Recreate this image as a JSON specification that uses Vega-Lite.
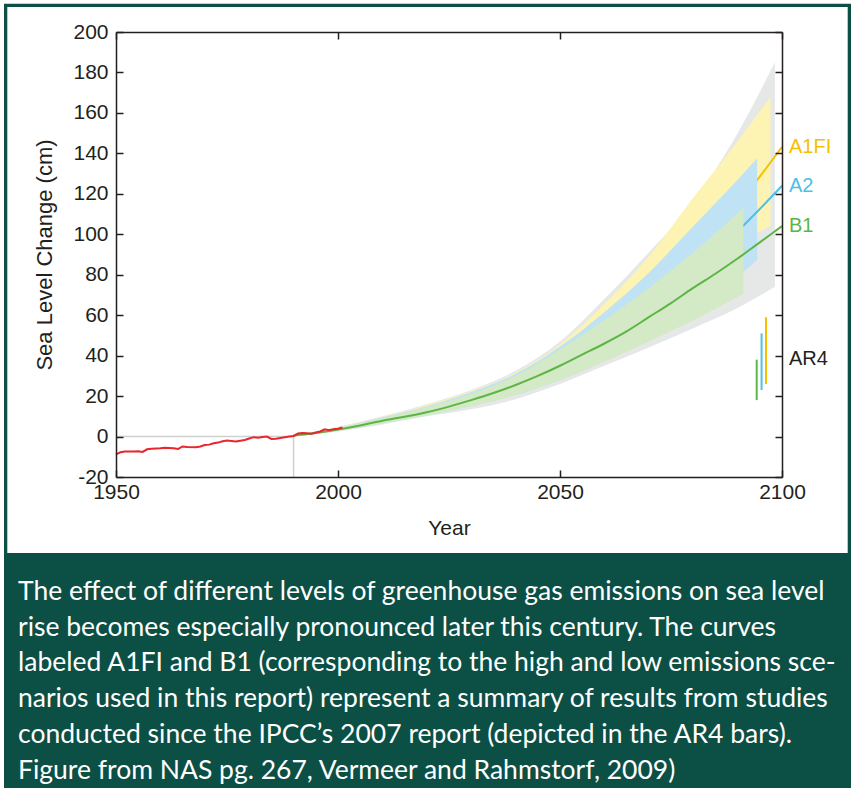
{
  "$schema": "https://vega.github.io/schema/vega-lite/v6.json",
  "width": 666,
  "height": 445,
  "autosize": {"type": "none"},
  "padding": {"left": 116, "top": 32, "right": 71, "bottom": 311},
  "background": "white",
  "config": {
    "view": {"stroke": null},
    "axis": {
      "zindex": 1, "grid": false, "labelFlush": false,
      "domainColor": "#231f20", "tickColor": "#231f20", "labelColor": "#231f20", "titleColor": "#231f20",
      "labelFont": "Liberation Sans", "titleFont": "Liberation Sans",
      "labelFontSize": 21, "titleFontSize": 21, "titleFontWeight": "normal",
      "domainWidth": 1.5, "tickWidth": 1.5, "tickSize": -7
    }
  },
  "datasets": {
    "observed": [
      {"year": 1950, "value": -8.8}, {"year": 1951, "value": -7.8}, {"year": 1952, "value": -7.4},
      {"year": 1954, "value": -7.4}, {"year": 1955, "value": -7.3}, {"year": 1956, "value": -7.6},
      {"year": 1957, "value": -6.3}, {"year": 1958, "value": -6.0}, {"year": 1960, "value": -5.8},
      {"year": 1961, "value": -5.6}, {"year": 1963, "value": -5.8}, {"year": 1964, "value": -6.1},
      {"year": 1965, "value": -4.9}, {"year": 1966, "value": -5.2}, {"year": 1968, "value": -5.3},
      {"year": 1969, "value": -4.9}, {"year": 1970, "value": -4.2}, {"year": 1971, "value": -4.0},
      {"year": 1972, "value": -3.3}, {"year": 1973, "value": -3.0}, {"year": 1974, "value": -2.3},
      {"year": 1975, "value": -2.0}, {"year": 1976, "value": -2.2}, {"year": 1977, "value": -2.5},
      {"year": 1978, "value": -2.1}, {"year": 1979, "value": -1.7}, {"year": 1980, "value": -1.0},
      {"year": 1981, "value": -0.3}, {"year": 1982, "value": -0.6}, {"year": 1983, "value": -0.2},
      {"year": 1984, "value": 0.0}, {"year": 1985, "value": -1.2}, {"year": 1986, "value": -1.1},
      {"year": 1987, "value": -0.7}, {"year": 1988, "value": -0.3}, {"year": 1989, "value": 0.0},
      {"year": 1990, "value": 0.3}, {"year": 1991, "value": 1.5}, {"year": 1992, "value": 1.8},
      {"year": 1993, "value": 1.6}, {"year": 1994, "value": 1.4}, {"year": 1995, "value": 2.0},
      {"year": 1996, "value": 2.5}, {"year": 1997, "value": 3.6}, {"year": 1998, "value": 3.1},
      {"year": 1999, "value": 3.6}, {"year": 2000, "value": 3.9}, {"year": 2001, "value": 4.5}
    ],
    "bands": [
      {"s": "gray", "year": 1990, "lo": 0, "hi": 0.5}, {"s": "gray", "year": 2000, "lo": 2.5, "hi": 4.8},
      {"s": "gray", "year": 2010, "lo": 6, "hi": 10}, {"s": "gray", "year": 2020, "lo": 10, "hi": 16},
      {"s": "gray", "year": 2030, "lo": 13.5, "hi": 23}, {"s": "gray", "year": 2040, "lo": 18.5, "hi": 32.5},
      {"s": "gray", "year": 2050, "lo": 26, "hi": 47}, {"s": "gray", "year": 2060, "lo": 35, "hi": 68},
      {"s": "gray", "year": 2070, "lo": 44, "hi": 91}, {"s": "gray", "year": 2080, "lo": 53.5, "hi": 116},
      {"s": "gray", "year": 2090, "lo": 63.5, "hi": 150}, {"s": "gray", "year": 2098.4, "lo": 74, "hi": 185},

      {"s": "A1FI", "year": 1990, "lo": 0, "hi": 0.5}, {"s": "A1FI", "year": 2000, "lo": 3, "hi": 4.5},
      {"s": "A1FI", "year": 2010, "lo": 6.8, "hi": 9.8}, {"s": "A1FI", "year": 2020, "lo": 11, "hi": 15.5},
      {"s": "A1FI", "year": 2030, "lo": 16, "hi": 22.5}, {"s": "A1FI", "year": 2040, "lo": 22, "hi": 31.5},
      {"s": "A1FI", "year": 2050, "lo": 30, "hi": 45.5}, {"s": "A1FI", "year": 2060, "lo": 40, "hi": 65.5},
      {"s": "A1FI", "year": 2070, "lo": 53, "hi": 89}, {"s": "A1FI", "year": 2080, "lo": 71, "hi": 118},
      {"s": "A1FI", "year": 2090, "lo": 94, "hi": 146}, {"s": "A1FI", "year": 2097.4, "lo": 104.2, "hi": 168},

      {"s": "A2", "year": 1990, "lo": 0, "hi": 0.5}, {"s": "A2", "year": 2000, "lo": 3, "hi": 4.2},
      {"s": "A2", "year": 2010, "lo": 6.5, "hi": 9.5}, {"s": "A2", "year": 2020, "lo": 10.5, "hi": 15},
      {"s": "A2", "year": 2030, "lo": 15, "hi": 22}, {"s": "A2", "year": 2040, "lo": 20.5, "hi": 31},
      {"s": "A2", "year": 2050, "lo": 28, "hi": 44.5}, {"s": "A2", "year": 2060, "lo": 37.5, "hi": 61.5},
      {"s": "A2", "year": 2070, "lo": 50, "hi": 81}, {"s": "A2", "year": 2080, "lo": 64, "hi": 104},
      {"s": "A2", "year": 2090, "lo": 79, "hi": 127}, {"s": "A2", "year": 2094.4, "lo": 87.4, "hi": 137.6},

      {"s": "B1", "year": 1990, "lo": 0, "hi": 0.5}, {"s": "B1", "year": 2000, "lo": 3, "hi": 4},
      {"s": "B1", "year": 2010, "lo": 6.5, "hi": 9}, {"s": "B1", "year": 2020, "lo": 10.5, "hi": 14.5},
      {"s": "B1", "year": 2030, "lo": 15, "hi": 21}, {"s": "B1", "year": 2040, "lo": 20.5, "hi": 30},
      {"s": "B1", "year": 2050, "lo": 28, "hi": 43}, {"s": "B1", "year": 2060, "lo": 37, "hi": 57.5},
      {"s": "B1", "year": 2070, "lo": 47, "hi": 73.5}, {"s": "B1", "year": 2080, "lo": 57.5, "hi": 91},
      {"s": "B1", "year": 2091.3, "lo": 70.6, "hi": 113}
    ],
    "medians": [
      {"s": "A1FI", "year": 2085, "value": 102}, {"s": "A1FI", "year": 2090, "value": 114.5},
      {"s": "A1FI", "year": 2095, "value": 128.5}, {"s": "A1FI", "year": 2100, "value": 143.2},
      {"s": "A2", "year": 2080, "value": 81}, {"s": "A2", "year": 2085, "value": 91.5},
      {"s": "A2", "year": 2090, "value": 101.5}, {"s": "A2", "year": 2095, "value": 112.5},
      {"s": "A2", "year": 2100, "value": 124},
      {"s": "B1", "year": 1990, "value": 0.5}, {"s": "B1", "year": 1995, "value": 1.8},
      {"s": "B1", "year": 2000, "value": 3.5}, {"s": "B1", "year": 2005, "value": 5.5},
      {"s": "B1", "year": 2010, "value": 7.8}, {"s": "B1", "year": 2015, "value": 9.8},
      {"s": "B1", "year": 2020, "value": 12}, {"s": "B1", "year": 2025, "value": 14.8},
      {"s": "B1", "year": 2030, "value": 18}, {"s": "B1", "year": 2035, "value": 21.5},
      {"s": "B1", "year": 2040, "value": 25.5}, {"s": "B1", "year": 2045, "value": 30},
      {"s": "B1", "year": 2050, "value": 35}, {"s": "B1", "year": 2055, "value": 40.5},
      {"s": "B1", "year": 2060, "value": 46}, {"s": "B1", "year": 2065, "value": 52},
      {"s": "B1", "year": 2070, "value": 59}, {"s": "B1", "year": 2075, "value": 66},
      {"s": "B1", "year": 2080, "value": 73.5}, {"s": "B1", "year": 2085, "value": 80.5},
      {"s": "B1", "year": 2090, "value": 88}, {"s": "B1", "year": 2095, "value": 96},
      {"s": "B1", "year": 2100, "value": 104}
    ],
    "ar4": [
      {"s": "B1", "year": 2094.3, "lo": 18, "hi": 38},
      {"s": "A2", "year": 2095.4, "lo": 23, "hi": 51},
      {"s": "A1FI", "year": 2096.4, "lo": 26, "hi": 59}
    ],
    "labels": [
      {"label": "A1FI", "year": 2100, "value": 143.1, "s": "A1FI"},
      {"label": "A2", "year": 2100, "value": 124.0, "s": "A2"},
      {"label": "B1", "year": 2100, "value": 104.2, "s": "B1"},
      {"label": "AR4", "year": 2100, "value": 38.1, "s": "AR4"}
    ]
  },
  "layer": [
    {
      "layer": [
        {
          "data": {"values": [{}]},
          "mark": {"type": "rect", "filled": false, "stroke": "#0c4f45", "strokeWidth": 3.3, "clip": false},
          "encoding": {
            "x": {"datum": 1925.146, "type": "quantitative", "scale": {"domain": [1950, 2100], "nice": false, "zero": false},
                  "axis": {"orient": "bottom", "zindex": 1, "labelFlush": false, "title": "Year", "values": [1950, 2000, 2050, 2100], "labelExpr": "'' + datum.value", "labelPadding": 11, "titlePadding": 15}},
            "x2": {"datum": 2115.169},
            "y": {"datum": 213.175, "type": "quantitative", "scale": {"domain": [-20, 200], "nice": false, "zero": false},
                  "axis": {"orient": "left", "zindex": 1, "labelFlush": false, "title": "Sea Level Change (cm)", "titleFontSize": 22, "values": [-20, 0, 20, 40, 60, 80, 100, 120, 140, 160, 180, 200], "labelExpr": "'' + datum.value", "labelPadding": 15, "titlePadding": 16}},
            "y2": {"datum": -172.76}
          }
        },
        {
          "data": {"values": [{}]},
          "mark": {"type": "rect", "color": "#0c4f45", "clip": false},
          "encoding": {
            "x": {"datum": 1924.775, "type": "quantitative"},
            "x2": {"datum": 2115.541},
            "y": {"datum": -57.57, "type": "quantitative"},
            "y2": {"datum": -173.75}
          }
        },
        {
          "data": {"name": "bands"},
          "transform": [{"filter": "datum.s === 'gray'"}],
          "mark": {"type": "area", "color": "#e6e7e7", "opacity": 1, "interpolate": "monotone"},
          "encoding": {
            "x": {"field": "year", "type": "quantitative"},
            "y": {"field": "hi", "type": "quantitative"},
            "y2": {"field": "lo"}
          }
        },
        {
          "data": {"name": "bands"},
          "transform": [{"filter": "datum.s === 'A1FI'"}],
          "mark": {"type": "area", "color": "#fdf3b2", "opacity": 1, "interpolate": "monotone"},
          "encoding": {
            "x": {"field": "year", "type": "quantitative"},
            "y": {"field": "hi", "type": "quantitative"},
            "y2": {"field": "lo"}
          }
        },
        {
          "data": {"name": "medians"},
          "transform": [{"filter": "datum.s === 'A1FI'"}],
          "mark": {"type": "line", "color": "#f5c000", "strokeWidth": 2, "interpolate": "monotone"},
          "encoding": {
            "x": {"field": "year", "type": "quantitative"},
            "y": {"field": "value", "type": "quantitative"}
          }
        },
        {
          "data": {"name": "bands"},
          "transform": [{"filter": "datum.s === 'A2'"}],
          "mark": {"type": "area", "color": "#bfe3f5", "opacity": 1, "interpolate": "monotone"},
          "encoding": {
            "x": {"field": "year", "type": "quantitative"},
            "y": {"field": "hi", "type": "quantitative"},
            "y2": {"field": "lo"}
          }
        },
        {
          "data": {"name": "medians"},
          "transform": [{"filter": "datum.s === 'A2'"}],
          "mark": {"type": "line", "color": "#4cc0e6", "strokeWidth": 2, "interpolate": "monotone"},
          "encoding": {
            "x": {"field": "year", "type": "quantitative"},
            "y": {"field": "value", "type": "quantitative"}
          }
        },
        {
          "data": {"name": "bands"},
          "transform": [{"filter": "datum.s === 'B1'"}],
          "mark": {"type": "area", "color": "#d4e9c6", "opacity": 1, "interpolate": "monotone"},
          "encoding": {
            "x": {"field": "year", "type": "quantitative"},
            "y": {"field": "hi", "type": "quantitative"},
            "y2": {"field": "lo"}
          }
        },
        {
          "data": {"name": "medians"},
          "transform": [{"filter": "datum.s === 'B1'"}],
          "mark": {"type": "line", "color": "#5cb545", "strokeWidth": 2, "interpolate": "monotone"},
          "encoding": {
            "x": {"field": "year", "type": "quantitative"},
            "y": {"field": "value", "type": "quantitative"}
          }
        },
        {
          "data": {"values": [{}]},
          "mark": {"type": "rule", "color": "#d0d0d0", "strokeWidth": 1.5},
          "encoding": {
            "x": {"datum": 1950, "type": "quantitative"},
            "x2": {"datum": 1990},
            "y": {"datum": 0, "type": "quantitative"}
          }
        },
        {
          "data": {"values": [{}]},
          "mark": {"type": "rule", "color": "#d0d0d0", "strokeWidth": 1.5},
          "encoding": {
            "x": {"datum": 1990, "type": "quantitative"},
            "y": {"datum": 0, "type": "quantitative"},
            "y2": {"datum": -20}
          }
        },
        {
          "data": {"name": "observed"},
          "mark": {"type": "line", "color": "#e8262b", "strokeWidth": 2},
          "encoding": {
            "x": {"field": "year", "type": "quantitative"},
            "y": {"field": "value", "type": "quantitative"}
          }
        },
        {
          "data": {"name": "ar4"},
          "mark": {"type": "rule", "strokeWidth": 2},
          "encoding": {
            "x": {"field": "year", "type": "quantitative"},
            "y": {"field": "lo", "type": "quantitative"},
            "y2": {"field": "hi"},
            "color": {"field": "s", "type": "nominal", "legend": null,
                      "scale": {"domain": ["B1", "A2", "A1FI", "AR4"], "range": ["#5cb545", "#4cc0e6", "#f5c000", "#231f20"]}}
          }
        },
        {
          "data": {"name": "labels"},
          "mark": {"type": "text", "align": "left", "baseline": "middle", "dx": 7, "font": "Liberation Sans", "fontSize": 20},
          "encoding": {
            "x": {"field": "year", "type": "quantitative"},
            "y": {"field": "value", "type": "quantitative"},
            "text": {"field": "label"},
            "color": {"field": "s", "type": "nominal", "legend": null}
          }
        },
        {
          "data": {"values": [{}]},
          "mark": {"type": "text", "align": "left", "baseline": "alphabetic", "font": "Lato", "fontSize": 26.5, "lineHeight": 35.7, "color": "#ffffff", "clip": false},
          "encoding": {
            "x": {"datum": 1927.93, "type": "quantitative"},
            "y": {"datum": -80.81, "type": "quantitative"},
            "text": {"value": [
              "The effect of different levels of greenhouse gas emissions on sea level",
              "rise becomes especially pronounced later this century. The curves",
              "labeled A1FI and B1 (corresponding to the high and low emissions sce-",
              "narios used in this report) represent a summary of results from studies",
              "conducted since the IPCC\u2019s 2007 report (depicted in the AR4 bars).",
              "Figure from NAS pg. 267, Vermeer and Rahmstorf, 2009)"
            ]}
          }
        }
      ]
    },
    {
      "data": {"name": "observed"},
      "mark": {"type": "point", "opacity": 0},
      "encoding": {
        "x": {"field": "year", "type": "quantitative", "scale": {"domain": [1950, 2100], "nice": false, "zero": false},
              "axis": {"orient": "top", "zindex": 1, "labels": false, "title": null, "values": [1950, 2000, 2050, 2100]}},
        "y": {"field": "value", "type": "quantitative", "scale": {"domain": [-20, 200], "nice": false, "zero": false},
              "axis": {"orient": "right", "zindex": 1, "labels": false, "title": null, "values": [-20, 0, 20, 40, 60, 80, 100, 120, 140, 160, 180, 200]}}
      }
    }
  ],
  "resolve": {"axis": {"x": "independent", "y": "independent"}}
}
